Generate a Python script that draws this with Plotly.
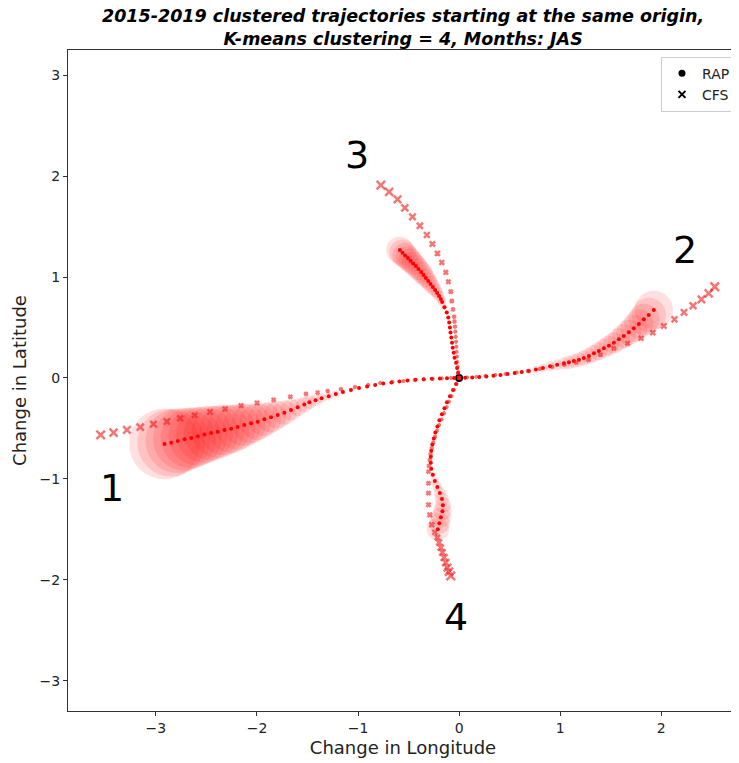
import plotly.graph_objects as go

# ---------------- data ----------------
# Cluster 1 (west)
c1_rap_x = [0, -0.05, -0.12, -0.19, -0.27, -0.35, -0.43, -0.51, -0.59, -0.67,
            -0.75, -0.83, -0.91, -0.99, -1.07, -1.15, -1.22, -1.29, -1.36, -1.42,
            -1.482, -1.532, -1.598, -1.663, -1.729, -1.795, -1.861, -1.927, -1.993, -2.058,
            -2.125, -2.191, -2.256, -2.322, -2.388, -2.454, -2.520, -2.586, -2.651, -2.717,
            -2.784, -2.849, -2.915]
c1_rap_y = [0, 0, -0.002, -0.004, -0.008, -0.012, -0.018, -0.025, -0.035, -0.045,
            -0.055, -0.07, -0.085, -0.10, -0.12, -0.14, -0.16, -0.18, -0.20, -0.22,
            -0.241, -0.264, -0.290, -0.317, -0.344, -0.366, -0.389, -0.409, -0.433, -0.449,
            -0.465, -0.485, -0.502, -0.515, -0.532, -0.545, -0.561, -0.577, -0.594, -0.607,
            -0.624, -0.641, -0.653]
c1_spread = [0, 0, 0, 0, 0, 0, 0, 0, 0, 0,
             0.005, 0.008, 0.012, 0.017, 0.022, 0.028, 0.035, 0.042, 0.05, 0.06,
             0.07, 0.08, 0.09, 0.105, 0.12, 0.135, 0.15, 0.165, 0.18, 0.195,
             0.21, 0.225, 0.24, 0.25, 0.26, 0.27, 0.28, 0.29, 0.30, 0.31,
             0.32, 0.335, 0.35]
c1_cfs_x = [0, -0.08, -0.17, -0.26, -0.35, -0.44, -0.55, -0.66, -0.78, -0.90,
            -1.03, -1.17, -1.30, -1.40, -1.515, -1.670, -1.835, -1.999, -2.157, -2.315,
            -2.464, -2.616, -2.760, -2.892, -3.024, -3.155, -3.287, -3.419, -3.547]
c1_cfs_y = [0, 0.0, -0.005, -0.01, -0.015, -0.02, -0.03, -0.04, -0.05, -0.07,
            -0.09, -0.11, -0.13, -0.145, -0.158, -0.185, -0.218, -0.248, -0.274, -0.307,
            -0.337, -0.369, -0.399, -0.432, -0.458, -0.488, -0.515, -0.542, -0.564]

# Cluster 2 (east)
c2_rap_x = [0, 0.06, 0.13, 0.20, 0.27, 0.34, 0.41, 0.48, 0.55, 0.62,
            0.69, 0.76, 0.83, 0.90, 0.97, 1.038, 1.087, 1.136, 1.186, 1.235,
            1.285, 1.334, 1.383, 1.433, 1.482, 1.532, 1.581, 1.630, 1.680, 1.729,
            1.779, 1.828, 1.877, 1.927]
c2_rap_y = [0, 0.002, 0.005, 0.01, 0.015, 0.022, 0.03, 0.04, 0.05, 0.06,
            0.07, 0.085, 0.10, 0.115, 0.13, 0.145, 0.155, 0.168, 0.181, 0.198,
            0.218, 0.244, 0.267, 0.294, 0.320, 0.349, 0.383, 0.416, 0.452, 0.492,
            0.535, 0.581, 0.624, 0.673]
c2_spread = [0, 0, 0, 0, 0, 0, 0, 0, 0.015, 0.02,
             0.03, 0.035, 0.042, 0.05, 0.055, 0.06, 0.065, 0.068, 0.072, 0.076,
             0.08, 0.085, 0.09, 0.095, 0.10, 0.105, 0.11, 0.118, 0.125, 0.135,
             0.145, 0.155, 0.17, 0.19]
c2_cfs_x = [0, 0.08, 0.17, 0.26, 0.36, 0.46, 0.57, 0.68, 0.80, 0.92,
            1.04, 1.16, 1.28, 1.40, 1.532, 1.667, 1.801, 1.917, 2.026, 2.131,
            2.226, 2.315, 2.398, 2.470, 2.530]
c2_cfs_y = [0, 0.005, 0.01, 0.02, 0.03, 0.04, 0.055, 0.07, 0.09, 0.11,
            0.13, 0.155, 0.18, 0.23, 0.294, 0.343, 0.393, 0.449, 0.515, 0.581,
            0.650, 0.716, 0.779, 0.838, 0.904]

# Cluster 3 (north)
c3_rap_x = [0, -0.01, -0.02, -0.03, -0.045, -0.053, -0.063, -0.07, -0.077, -0.085,
            -0.091, -0.098, -0.107, -0.122, -0.145, -0.168, -0.181, -0.198, -0.217, -0.237,
            -0.260, -0.283, -0.306, -0.329, -0.352, -0.375, -0.402, -0.428, -0.455, -0.481,
            -0.507, -0.534, -0.560, -0.586]
c3_rap_y = [0, 0.05, 0.10, 0.15, 0.20, 0.25, 0.30, 0.35, 0.40, 0.45,
            0.50, 0.55, 0.60, 0.65, 0.70, 0.752, 0.782, 0.812, 0.842, 0.871,
            0.901, 0.931, 0.960, 0.990, 1.020, 1.050, 1.079, 1.109, 1.135, 1.162,
            1.188, 1.214, 1.241, 1.267]
c3_spread = [0, 0, 0, 0, 0, 0, 0, 0, 0, 0,
             0, 0, 0.01, 0.02, 0.03, 0.04, 0.045, 0.055, 0.06, 0.068,
             0.075, 0.082, 0.088, 0.094, 0.10, 0.105, 0.11, 0.113, 0.116, 0.12,
             0.123, 0.127, 0.131, 0.135]
c3_cfs_x = [0, -0.007, -0.013, -0.017, -0.020, -0.024, -0.027, -0.030, -0.033, -0.037,
            -0.040, -0.045, -0.049, -0.060, -0.072, -0.082, -0.106, -0.131, -0.171, -0.214,
            -0.264, -0.319, -0.388, -0.461, -0.537, -0.609, -0.692, -0.774]
c3_cfs_y = [0, 0.06, 0.112, 0.16, 0.211, 0.26, 0.310, 0.36, 0.409, 0.46,
            0.508, 0.56, 0.607, 0.68, 0.762, 0.855, 0.954, 1.047, 1.145, 1.235,
            1.327, 1.416, 1.508, 1.597, 1.686, 1.770, 1.845, 1.911]

# Cluster 4 (south)
c4_rap_x = [0, -0.03, -0.06, -0.09, -0.12, -0.145, -0.17, -0.195, -0.215, -0.235,
            -0.25, -0.265, -0.275, -0.28, -0.28, -0.275, -0.26, -0.24, -0.215, -0.19,
            -0.17, -0.16, -0.165, -0.18, -0.195, -0.21]
c4_rap_y = [0, -0.06, -0.12, -0.18, -0.24, -0.30, -0.36, -0.42, -0.48, -0.54,
            -0.60, -0.66, -0.72, -0.78, -0.84, -0.90, -0.96, -1.02, -1.08, -1.14,
            -1.20, -1.26, -1.32, -1.38, -1.44, -1.50]
c4_spread = [0, 0, 0, 0, 0, 0, 0, 0, 0, 0,
             0, 0, 0, 0, 0.01, 0.02, 0.03, 0.04, 0.05, 0.06,
             0.07, 0.08, 0.09, 0.10, 0.105, 0.11]
c4_cfs_x = [0, -0.025, -0.049, -0.074, -0.099, -0.123, -0.148, -0.173, -0.198, -0.218,
            -0.237, -0.255, -0.270, -0.282, -0.290, -0.298, -0.303, -0.303, -0.303, -0.303,
            -0.290, -0.270, -0.240, -0.215, -0.198, -0.181, -0.165, -0.148, -0.132, -0.115,
            -0.100, -0.082]
c4_cfs_y = [0, -0.06, -0.119, -0.18, -0.235, -0.29, -0.350, -0.41, -0.465, -0.52,
            -0.581, -0.64, -0.696, -0.755, -0.812, -0.87, -0.928, -1.043, -1.142, -1.257,
            -1.356, -1.455, -1.53, -1.58, -1.63, -1.68, -1.73, -1.78, -1.83, -1.88,
            -1.92, -1.96]

cluster_labels = ["1", "2", "3", "4"]
label_x = [-3.43, 2.24, -1.01, -0.03]
label_y = [-1.09, 1.27, 2.21, -2.37]

x_ticks = [-3, -2, -1, 0, 1, 2]
y_ticks = [-3, -2, -1, 0, 1, 2, 3]

title_lines = ["2015-2019 clustered trajectories starting at the same origin,",
               "K-means clustering = 4, Months: JAS"]

# ---------------- figure ----------------
# the page body has an 8px margin, so the figure is offset by (8, 8)
OFF = 8
W, H = 739 - OFF, 763 - OFF
ML, MR, MT, MB = 68 - OFF, 1, 50 - OFF, 52
XR = [-3.87, 2.76]
YR = [-3.30, 3.25]
plot_h = H - MT - MB
px_per_unit = (W - ML - MR) / (XR[1] - XR[0])
FONT = "DejaVu Sans"

clusters = [
    (c1_rap_x, c1_rap_y, c1_spread, c1_cfs_x, c1_cfs_y),
    (c2_rap_x, c2_rap_y, c2_spread, c2_cfs_x, c2_cfs_y),
    (c3_rap_x, c3_rap_y, c3_spread, c3_cfs_x, c3_cfs_y),
    (c4_rap_x, c4_rap_y, c4_spread, c4_cfs_x, c4_cfs_y),
]

fig = go.Figure()

# spread circles
for rx, ry, sp, cx, cy in clusters:
    fig.add_trace(go.Scatter(
        x=rx, y=ry, mode="markers", showlegend=False, hoverinfo="skip",
        marker=dict(size=[2 * r * px_per_unit for r in sp],
                    color="rgba(255,0,0,0.18)", line=dict(width=0)),
    ))

# origin (black)
fig.add_trace(go.Scatter(x=[c1_rap_x[0]], y=[c1_rap_y[0]], mode="markers", showlegend=False,
                         marker=dict(size=8, color="black")))

# RAP mean trajectories
for rx, ry, sp, cx, cy in clusters:
    fig.add_trace(go.Scatter(
        x=rx, y=ry, mode="markers", showlegend=False,
        marker=dict(size=4, color="red", line=dict(width=0)),
    ))

# CFS trajectories
for rx, ry, sp, cx, cy in clusters:
    n = len(cx)
    sizes = [2.5 + 6.0 * (i / (n - 1)) ** 2.5 for i in range(n)]
    fig.add_trace(go.Scatter(
        x=cx, y=cy, mode="markers", showlegend=False,
        marker=dict(symbol="x-thin", size=sizes,
                    line=dict(width=2.5, color="rgba(240,25,25,0.85)")),
    ))

# legend entries
fig.add_trace(go.Scatter(x=[None], y=[None], mode="markers", name="RAP",
                         marker=dict(size=7, color="black")))
fig.add_trace(go.Scatter(x=[None], y=[None], mode="markers", name="CFS",
                         marker=dict(symbol="x-thin", size=7,
                                     line=dict(width=2, color="black"))))

for t, lx, ly in zip(cluster_labels, label_x, label_y):
    fig.add_annotation(x=lx, y=ly, text=t, showarrow=False,
                       font=dict(family=FONT, size=38, color="black"))

# two-line title as one text block, centred at figure-pixel y = 19
fig.add_annotation(xref="paper", yref="paper", x=0.5,
                   y=(H - MB - 19) / plot_h, xanchor="center", yanchor="middle",
                   text="<b><i>" + "<br>".join(title_lines) + "</i></b>",
                   showarrow=False, borderpad=0, align="center",
                   font=dict(family=FONT, size=17.5, color="black"))

axis_common = dict(showgrid=False, zeroline=False, showline=True, mirror=True,
                   linecolor="#333333", linewidth=1.3, ticks="outside", ticklen=4,
                   tickwidth=1, tickcolor="#333333",
                   tickfont=dict(family=FONT, size=14, color="#222222"))

fig.update_layout(
    width=W, height=H,
    margin=dict(l=ML, r=MR, t=MT, b=MB),
    paper_bgcolor="white", plot_bgcolor="white",
    xaxis=dict(range=XR, tickvals=x_ticks,
               title=dict(text="Change in Longitude", standoff=6,
                          font=dict(family=FONT, size=18, color="#222222")),
               **axis_common),
    yaxis=dict(range=YR, tickvals=y_ticks,
               title=dict(text="Change in Latitude", standoff=8,
                          font=dict(family=FONT, size=18, color="#222222")),
               **axis_common),
    legend=dict(x=0.997, xanchor="right", y=0.99, yanchor="top",
                bgcolor="white", bordercolor="#cccccc", borderwidth=1,
                font=dict(family=FONT, size=14, color="#222222"),
                itemwidth=30),
)

fig.write_html("out.html")
